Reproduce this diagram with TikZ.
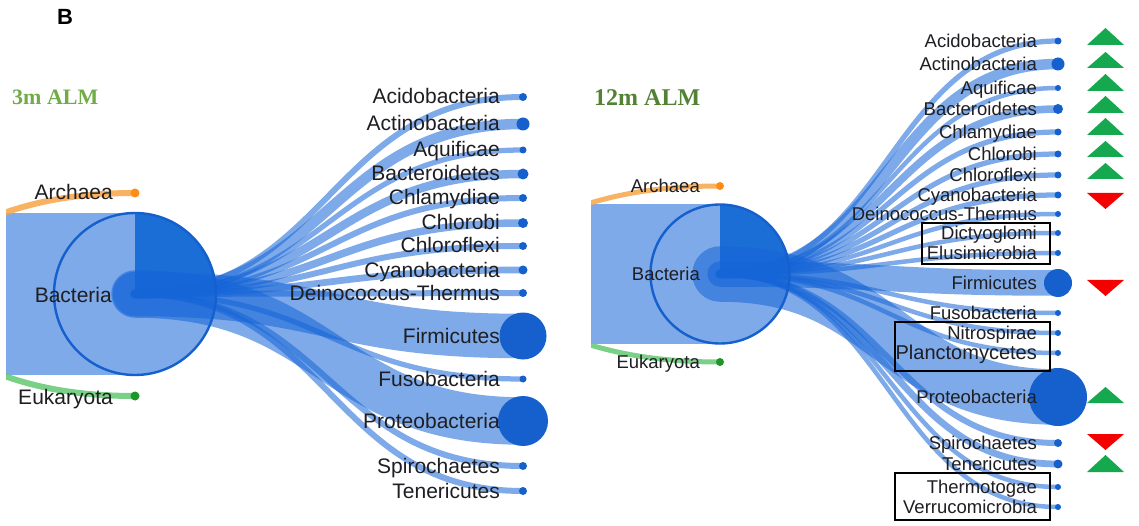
\documentclass[tikz,border=0pt]{standalone}
\usepackage{fontspec}
\setmainfont{Liberation Sans}
\newfontfamily\titleserif{Liberation Serif}
\usetikzlibrary{calc}
\definecolor{linkblue}{RGB}{21,101,216}
\definecolor{quadblue}{RGB}{28,110,215}
\definecolor{dotblue}{RGB}{21,96,204}
\definecolor{labgray}{RGB}{30,30,35}
\definecolor{arline}{RGB}{247,165,70}
\definecolor{ardot}{RGB}{255,140,20}
\definecolor{euline}{RGB}{100,200,115}
\definecolor{eudot}{RGB}{30,150,40}
\definecolor{upgreen}{RGB}{22,168,78}
\definecolor{downred}{RGB}{245,0,0}
\definecolor{titlelight}{RGB}{112,173,71}
\definecolor{titledark}{RGB}{84,130,53}
\newcommand\leftlabfont{\fontsize{21}{21}\selectfont}
\def\leftlist{Acidobacteria/97/4,Actinobacteria/124/6.5,Aquificae/150/3.5,Bacteroidetes/174/5.5,Chlamydiae/198/4,Chlorobi/223/5,Chloroflexi/246/4,Cyanobacteria/270/4.5,Deinococcus-Thermus/293/4,Firmicutes/336/23.5,Fusobacteria/379/3.5,Proteobacteria/421/25,Spirochaetes/466/4,Tenericutes/491/4}
\def\rightlist{Acidobacteria/41/3.5/18.5,Actinobacteria/64/6.5/18.5,Aquificae/88/3/18.5,Bacteroidetes/109/5/18.5,Chlamydiae/132/3.5/18.5,Chlorobi/154/3.5/18.5,Chloroflexi/175/3.5/18.5,Cyanobacteria/195/3.5/18.5,Deinococcus-Thermus/214/3/18.5,Dictyoglomi/233/3/18.5,Elusimicrobia/253/3/18.5,Firmicutes/283/14/18.5,Fusobacteria/313/3/18.5,Nitrospirae/333/3/18.5,Planctomycetes/353/3/20,Proteobacteria/397/29/18.5,Spirochaetes/443/4/18.5,Tenericutes/464/4.5/18.5,Thermotogae/487/3/18.5,Verrucomicrobia/507/3/18.5}
\begin{document}
\begin{tikzpicture}[x=1pt,y=-1pt,
  link/.style={draw=linkblue, draw opacity=0.55, line cap=round},
  dotnode/.style={circle, fill=dotblue, inner sep=0pt, outer sep=0pt},
  lab/.style={anchor=base east, inner sep=0pt, text=labgray},
  outline/.style={draw=dotblue, line width=2.4pt},
  hlbox/.style={draw=black, line width=2.4pt},
  arlink/.style={draw=arline, draw opacity=0.85, line cap=round},
  eulink/.style={draw=euline, draw opacity=0.85, line cap=round},
  uptri/.style={fill=upgreen},
  downtri/.style={fill=downred}]
\useasboundingbox (0,0) rectangle (1139,526);
\fill[white] (0,0) rectangle (1139,526);

% ---------- panel label ----------
\node[anchor=base, inner sep=0pt, font=\fontsize{22}{22}\selectfont\bfseries] (panelB) at (65,25) {B};

% ================= LEFT PANEL (3m) =================
\node[anchor=base west, inner sep=0pt, text=titlelight, font=\titleserif\fontsize{22}{22}\selectfont\bfseries] (Ltitle) at (12,105) {3m ALM};
\coordinate (LB) at (135,294);
\coordinate (Lroot) at (-263,294);
\coordinate (LA) at (135,193);
\coordinate (LE) at (135,396);
\foreach \t/\y/\r [count=\i] in \leftlist {\coordinate (L\i) at (523,\y);}
\begin{scope}
\clip (6,0) rectangle (580,526);
\draw[link, line width=162pt] (Lroot) -- (LB);
\draw[arlink, line width=6pt] (Lroot) .. controls +(199,0) and +(-199,0) .. (LA);
\draw[eulink, line width=6pt] (Lroot) .. controls +(199,0) and +(-199,0) .. (LE);
\fill[quadblue] (LB) -- ++(0,-81) arc[start angle=-90, end angle=0, radius=81] -- cycle;
\foreach \t/\y/\r [count=\i] in \leftlist {
  \pgfmathsetmacro\w{max(2*\r-2.5,1.5*\r)}
  \draw[link, line width=\w pt] (LB) .. controls +(194,0) and +(-194,0) .. (L\i);
}
\end{scope}
\draw[outline] (LB) circle[radius=81];
\foreach \t/\y/\r [count=\i] in \leftlist {
  \pgfmathsetmacro\d{2*\r}
  \node[dotnode, minimum size=\d pt] (Ld\i) at (L\i) {};
  \node[lab, font=\leftlabfont] (Lt\i) at ($(L\i)+(-23,7)$) {\t};
}
\node[dotnode, fill=ardot, minimum size=9pt] (LAd) at (LA) {};
\node[dotnode, fill=eudot, minimum size=9pt] (LEd) at (LE) {};
\node[lab, font=\leftlabfont] (LAt) at ($(LA)+(-22,7)$) {Archaea};
\node[lab, font=\leftlabfont] (LEt) at ($(LE)+(-22,8)$) {Eukaryota};
\node[lab, font=\leftlabfont] (LBt) at ($(LB)+(-23,8)$) {Bacteria};

% ================= RIGHT PANEL (12m) =================
\node[anchor=base west, inner sep=0pt, text=titledark, font=\titleserif\fontsize{24}{24}\selectfont\bfseries] (Rtitle) at (594,106) {12m ALM};
\coordinate (RB) at (720,274);
\coordinate (Rroot) at (322,274);
\coordinate (RA) at (720,186);
\coordinate (RE) at (720,362);
\foreach \t/\y/\r/\fs [count=\i] in \rightlist {\coordinate (R\i) at (1058,\y);}
\begin{scope}
\clip (591,0) rectangle (1139,526);
\draw[link, line width=139pt] (Rroot) -- (RB);
\draw[arlink, line width=5pt] (Rroot) .. controls +(199,0) and +(-199,0) .. (RA);
\draw[eulink, line width=5pt] (Rroot) .. controls +(199,0) and +(-199,0) .. (RE);
\fill[quadblue] (RB) -- ++(0,-69.5) arc[start angle=-90, end angle=0, radius=69.5] -- cycle;
\foreach \t/\y/\r/\fs [count=\i] in \rightlist {
  \pgfmathsetmacro\w{max(2*\r-2.5,1.5*\r)}
  \draw[link, line width=\w pt] (RB) .. controls +(169,0) and +(-169,0) .. (R\i);
}
\end{scope}
\draw[outline] (RB) circle[radius=69.5];
\foreach \t/\y/\r/\fs [count=\i] in \rightlist {
  \pgfmathsetmacro\d{2*\r}
  \node[dotnode, minimum size=\d pt] (Rd\i) at (R\i) {};
  \node[lab, font=\fontsize{\fs}{\fs}\selectfont] (Rt\i) at ($(R\i)+(-21,6.5)$) {\t};
}
\node[dotnode, fill=ardot, minimum size=8pt] (RAd) at (RA) {};
\node[dotnode, fill=eudot, minimum size=8pt] (REd) at (RE) {};
\node[lab, font=\fontsize{18.5}{18.5}\selectfont] (RAt) at ($(RA)+(-20,6.5)$) {Archaea};
\node[lab, font=\fontsize{18.5}{18.5}\selectfont] (REt) at ($(RE)+(-20,6.5)$) {Eukaryota};
\node[lab, font=\fontsize{18.5}{18.5}\selectfont] (RBt) at ($(RB)+(-20,7)$) {Bacteria};

% highlight boxes
\draw[hlbox] (922,223) rectangle (1050,264);
\draw[hlbox] (895,322) rectangle (1050,371);
\draw[hlbox] (895,473) rectangle (1050,520);

% change triangles
\foreach \yt/\yb in {28/45,52/68,74/91,96/113,118/135,141/157,163/179,387/403,455/472}
  \fill[uptri] (1087,\yb) -- (1124,\yb) -- (1105.5,\yt) -- cycle;
\foreach \yt/\yb in {193/209,280/296,434/450}
  \fill[downtri] (1087,\yt) -- (1124,\yt) -- (1105.5,\yb) -- cycle;
\end{tikzpicture}
\end{document}
